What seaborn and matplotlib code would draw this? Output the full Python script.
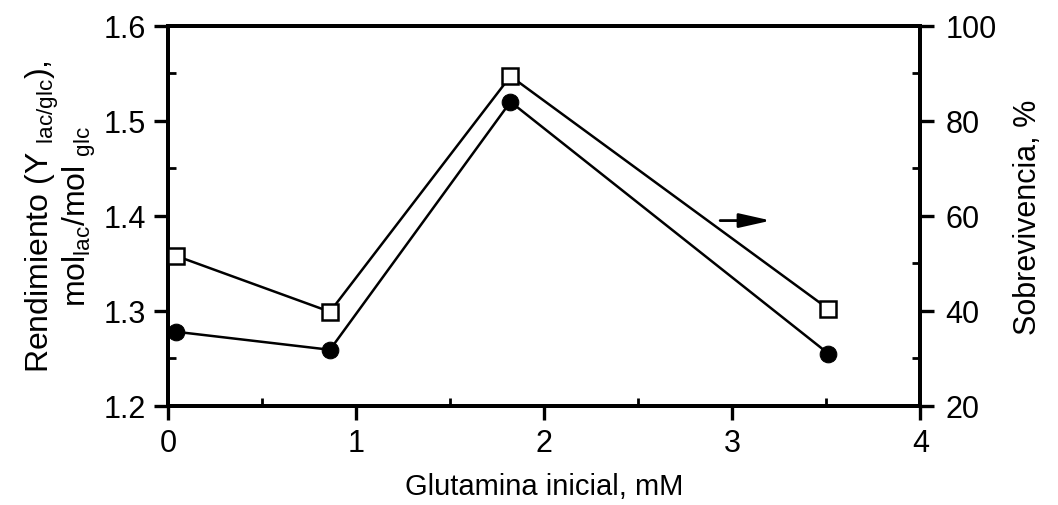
import matplotlib
matplotlib.use("Agg")
import matplotlib.pyplot as plt
from matplotlib.ticker import MultipleLocator
import pandas as pd
import seaborn as sns

# Initial glutamine concentration (mM)
glutamina = [0.04, 0.86, 1.82, 3.51]
# Lactate/glucose yield (left axis)
rendimiento = [1.278, 1.259, 1.520, 1.255]
# Survival percentage (right axis)
sobrevivencia = [51.6, 39.8, 89.4, 40.4]

x_ticks = [0, 1, 2, 3, 4]
left_ticks = [1.2, 1.3, 1.4, 1.5, 1.6]
right_ticks = [20, 40, 60, 80, 100]

sns.set_style("ticks")
plt.rcParams["font.family"] = ["Liberation Sans", "DejaVu Sans"]
plt.rcParams["mathtext.default"] = "regular"
plt.rcParams["axes.labelcolor"] = "black"
plt.rcParams["text.color"] = "black"

df = pd.DataFrame({"x": glutamina, "rend": rendimiento, "sobre": sobrevivencia})

fig = plt.figure(figsize=(10.58, 5.06), dpi=100)
ax = fig.add_axes([0.159, 0.196, 0.711, 0.751])
ax2 = ax.twinx()

sns.lineplot(data=df, x="x", y="rend", ax=ax, color="black", lw=1.8,
             marker="o", markersize=12, markerfacecolor="black",
             markeredgecolor="black", zorder=3)
sns.lineplot(data=df, x="x", y="sobre", ax=ax2, color="black", lw=1.8,
             marker="s", markersize=12, markerfacecolor="white",
             markeredgecolor="black", markeredgewidth=1.8, zorder=3)

ax.set_xlim(0, 4)
ax.set_ylim(1.2, 1.6)
ax2.set_ylim(20, 100)
ax.set_xticks(x_ticks)
ax.set_xticklabels([str(v) for v in x_ticks])
ax.set_yticks(left_ticks)
ax.set_yticklabels([f"{v:.1f}" for v in left_ticks])
ax2.set_yticks(right_ticks)
ax2.set_yticklabels([str(v) for v in right_ticks])

ax.xaxis.set_minor_locator(MultipleLocator(0.5))
ax.yaxis.set_minor_locator(MultipleLocator(0.05))
ax2.yaxis.set_minor_locator(MultipleLocator(10))

for a in (ax, ax2):
    for s in a.spines.values():
        s.set_visible(True)
        s.set_linewidth(2.8)
        s.set_color("black")

ax.tick_params(axis="both", which="major", direction="out", length=10,
               width=2.4, labelsize=22, colors="black", pad=6)
ax.tick_params(axis="both", which="minor", direction="in", length=6,
               width=2.0, colors="black")
ax.tick_params(axis="y", right=False)
ax.tick_params(axis="x", top=False)
ax2.tick_params(axis="y", which="major", direction="out", length=10,
                width=2.4, labelsize=22, colors="black", pad=8)
ax2.tick_params(axis="y", which="minor", direction="in", length=6,
                width=2.0, colors="black")

ax.set_xlabel("Glutamina inicial, mM", fontsize=21, labelpad=10, color="black")
ax.set_ylabel("Rendimiento (Y $_{lac/glc}$),\nmol$_{lac}$/mol $_{glc}$",
              fontsize=23, labelpad=4, linespacing=1.0, color="black")
ax2.set_ylabel("Sobrevivencia, %", fontsize=22, labelpad=12, color="black")

# Arrow pointing to the survival axis
ax2.annotate("", xy=(3.22, 59), xytext=(2.92, 59),
             arrowprops=dict(arrowstyle="-|>,head_length=0.8,head_width=0.18",
                             color="black", lw=2.0, mutation_scale=24))

fig.savefig("out.png", dpi=100)
